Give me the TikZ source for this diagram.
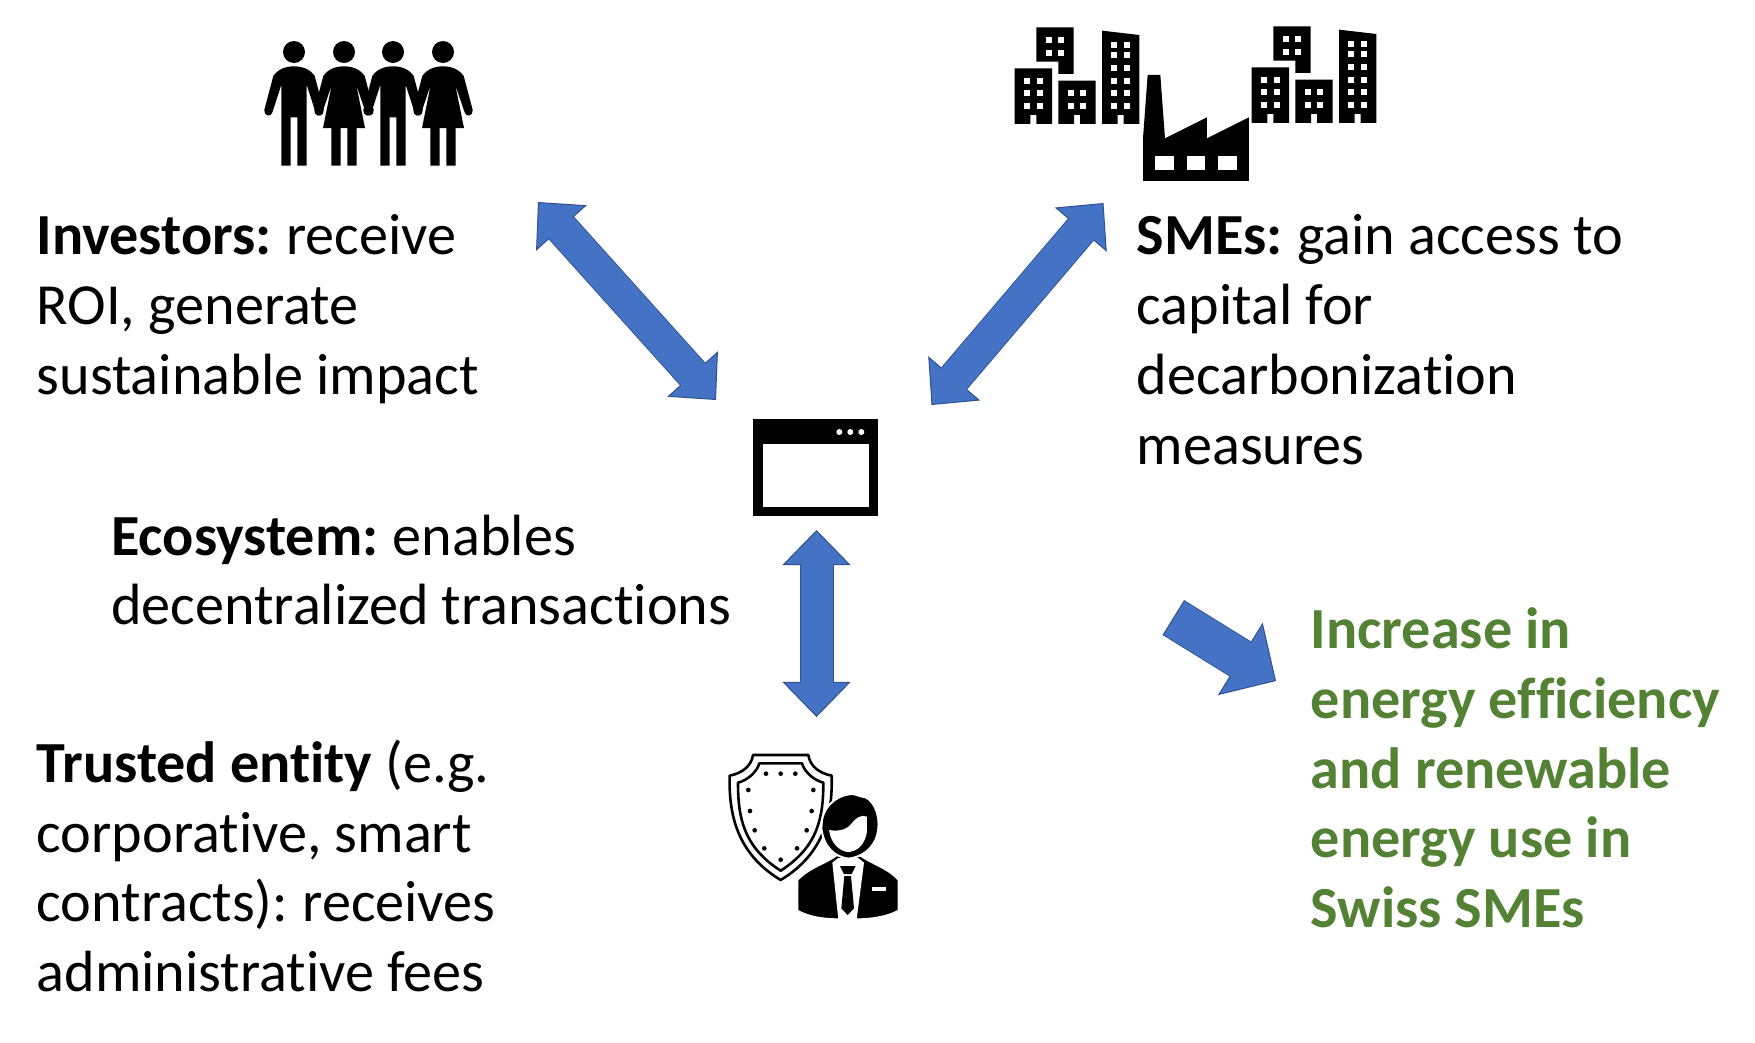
\documentclass[tikz,border=0pt]{standalone}
\usepackage{fontspec}
\setmainfont[Ligatures=NoCommon]{Carlito}
\usepackage{xcolor}
\usetikzlibrary{arrows.meta,positioning}

\definecolor{arrowblue}{HTML}{4472C4}
\definecolor{arrowedge}{HTML}{2F528F}
\definecolor{goalgreen}{HTML}{548235}

\newcommand{\leadin}[1]{\textbf{#1}\kern-0.9pt\relax}

\begin{document}
\begin{tikzpicture}[x=0.01cm, y=-0.01cm,
    label/.style={inner sep=0pt, anchor=north west, align=left, font=\fontsize{16.55}{19.85}\selectfont},
    goal/.style={label, text=goalgreen, font=\fontsize{16.55}{19.85}\selectfont\bfseries},
    bigarrow/.style={<->, >={Triangle[length=0.35cm, width=0.68cm, fill=arrowblue, color=arrowedge, line width=0.01cm]}, draw=arrowedge, line width=0.01cm, double=arrowblue, double distance=0.32cm},
    bigshaft/.style={draw=arrowblue, line width=0.32cm, shorten <=0.3cm, shorten >=0.3cm},
    goalarrow/.style={{Bar[width=0.41cm, line width=0.01cm, color=arrowedge]}-{Triangle[length=0.42cm, width=0.85cm, fill=arrowblue, color=arrowedge, line width=0.01cm]}, draw=arrowedge, line width=0.01cm, double=arrowblue, double distance=0.39cm},
    goalshaft/.style={draw=arrowblue, line width=0.39cm, shorten <=0.02cm, shorten >=0.36cm},
    pics/man/.style={code={
        \fill (0,0) circle (11);
        \fill (0,14.3) .. controls (8,14.3) and (16,17) .. (20.7,24) -- (29.7,58) .. controls (30.5,64) and (22.5,66) .. (21.5,60) -- (12.7,33) -- (12.7,113.7) -- (3.3,113.7) -- (3.3,65.3) -- (-3.3,65.3) -- (-3.3,113.7) -- (-12.7,113.7) -- (-12.7,33) -- (-21.5,60) .. controls (-22.5,66) and (-30.5,64) .. (-29.7,58) -- (-20.7,24) .. controls (-16,17) and (-8,14.3) .. (0,14.3) -- cycle;
    }},
    pics/woman/.style={code={
        \fill (0,0) circle (11);
        \fill (0,14.3) .. controls (8,14.3) and (16,17) .. (20.7,24) -- (29.7,58) .. controls (30.5,64) and (22.5,66) .. (21.5,60) -- (12.3,33) -- (21,76) -- (12.7,76) -- (12.7,113.7) -- (3.3,113.7) -- (3.3,76) -- (-3.3,76) -- (-3.3,113.7) -- (-12.7,113.7) -- (-12.7,76) -- (-21,76) -- (-12.3,33) -- (-21.5,60) .. controls (-22.5,66) and (-30.5,64) .. (-29.7,58) -- (-20.7,24) .. controls (-16,17) and (-8,14.3) .. (0,14.3) -- cycle;
    }},
    pics/city/.style={code={
        \fill (109,52) -- (221,52) -- (221,192) -- (175,192) -- (175,155) -- (109,155) -- cycle;
        \fill (44,175) -- (156,175) -- (156,342) -- (109,342) -- (109,315) -- (91,315) -- (91,342) -- (44,342) -- cycle;
        \fill (175,212) -- (287,212) -- (287,342) -- (240,342) -- (240,315) -- (222,315) -- (222,342) -- (175,342) -- cycle;
        \fill (306,62) -- (418,75) -- (418,342) -- (371,342) -- (371,315) -- (353,315) -- (353,342) -- (306,342) -- cycle;
        \foreach \wx/\wy in {146/90,184/90,146/128,184/128,81/212,119/212,81/249,119/249,81/287,119/287,212/249,250/249,212/287,250/287,343/104,381/104,343/136,381/136,343/174,381/174,343/212,381/212,343/249,381/249,343/287,381/287}
            \fill[white] (\wx-9,\wy-9) rectangle (\wx+9,\wy+9);
    }},
    pics/guard/.style={code={
        % Shield
        \draw[line width=0.026cm, line join=round] (129,45) -- (295,45) .. controls (300,80) and (330,100) .. (365,107) .. controls (368,220) and (345,340) .. (212,420) .. controls (79,340) and (56,220) .. (59,107) .. controls (94,100) and (124,80) .. (129,45) -- cycle;
        \draw[line width=0.026cm, line join=round] (148,70) -- (276,70) .. controls (283,95) and (310,120) .. (340,128) .. controls (340,230) and (325,320) .. (212,392) .. controls (99,320) and (84,230) .. (84,128) .. controls (114,120) and (141,95) .. (148,70) -- cycle;
        \foreach \dx/\dy in {168/101,212/101,256/101,115/150,310/150,120/213,305/213,134/271,290/271,163/325,261/325,212/359}
            \fill (\dx,\dy) circle (7);
        % Person
        \filldraw[draw=white, line width=0.02cm] (262,420) .. controls (297,382) and (345,372) .. (385,342) -- (445,342) .. controls (485,372) and (533,382) .. (566,420) -- (566,512) .. controls (533,531) and (480,538) .. (445,538) -- (385,538) .. controls (340,538) and (295,531) .. (262,512) -- cycle;
        \filldraw[draw=white, line width=0.02cm] (336,240) .. controls (346,186) and (395,161) .. (430,162) .. controls (440,164) and (445,168) .. (467,172) .. controls (499,188) and (514,240) .. (501,287) .. controls (491,322) and (460,351) .. (415,356) .. controls (375,351) and (341,322) .. (334,265) -- cycle;
        \fill[white] (357,270) .. controls (385,275) and (410,270) .. (425,250) .. controls (435,235) and (455,222) .. (471,230) -- (471,275) .. controls (465,315) and (440,335) .. (415,336) .. controls (390,335) and (362,310) .. (357,270) -- cycle;
        \fill[white] (367,368) -- (385,354) -- (445,354) -- (462,368) -- (440,538) -- (385,538) -- cycle;
        \fill (390,378) -- (437,378) -- (425,402) -- (402,402) -- cycle;
        \fill (403,408) -- (423,408) -- (432,505) -- (413,525) -- (394,505) -- cycle;
        \fill[white] (485,442) -- (527,442) -- (527,452) -- (485,452) -- cycle;
    }}]

    \useasboundingbox (0,0) rectangle (1755,1042);

    % Icons
    \pic at (294,52) {man};
    \pic at (393,52) {man};
    \pic at (344,52) {woman};
    \pic at (443,52) {woman};
    \pic[scale=0.3333] at (1000,10) {city};
    \pic[scale=0.3333] at (1237,9) {city};
    \pic[scale=0.3333] at (710,740) {guard};

    % Factory
    \begin{scope}[shift={(1000,10)}, scale=0.3333]
        \fill (429,513) -- (429,385) -- (443,195) -- (481,195) -- (495,385) -- (621,322) -- (621,385) -- (747,322) -- (747,513) -- cycle;
        \foreach \wx in {466,560,654}
            \fill[white] (\wx,438) rectangle (\wx+56,480);
    \end{scope}

    % Window
    \node[fill=black, inner sep=0pt, minimum width=1.25cm, minimum height=0.97cm] (window) at (815.8,467.8) {};
    \node[fill=white, inner sep=0pt, minimum width=1.06cm, minimum height=0.63cm] (pane) at (815.8,475.7) {};
    \foreach \dotx in {839.3,850.3,861.3}
        \fill[white] (\dotx,432) circle (3);

    % Texts
    \node[label] (investors) at (36,214) {\leadin{Investors:} receive\\ROI, generate\\sustainable impact};
    \node[label] (smes) at (1136,214) {\leadin{SMEs:} gain access to\\capital for\\decarbonization\\measures};
    \node[label] (ecosystem) at (110.5,514) {\leadin{Ecosystem:} enables\\decentralized transactions};
    \node[label] (trusted) at (36,739) {\textbf{Trusted entity} (e.g.\\corporative, smart\\contracts):\kern-0.9pt{} receives\\administrative fees};
    \node[goal] (outcome) at (1310,607) {Increase in\\energy efficiency\\and renewable\\energy use in\\Swiss SMEs};

    % Arrow ends
    \coordinate (investorend) at (538,202);
    \coordinate (windowleft) at (716,400);
    \coordinate (smeend) at (1103.5,203);
    \coordinate (windowright) at (931.5,405);
    \coordinate (windowlow) at (816.5,530);
    \coordinate (guardend) at (816.5,717);
    \coordinate (goaltail) at (1173.3,617.5);
    \coordinate (goaltip) at (1276,681);

    % Arrows
    \draw[bigarrow] (investorend) -- (windowleft);
    \draw[bigshaft] (investorend) -- (windowleft);
    \draw[bigarrow] (smeend) -- (windowright);
    \draw[bigshaft] (smeend) -- (windowright);
    \draw[bigarrow] (windowlow) -- (guardend);
    \draw[bigshaft] (windowlow) -- (guardend);
    \draw[goalarrow] (goaltail) -- (goaltip);
    \draw[goalshaft] (goaltail) -- (goaltip);

\end{tikzpicture}
\end{document}
